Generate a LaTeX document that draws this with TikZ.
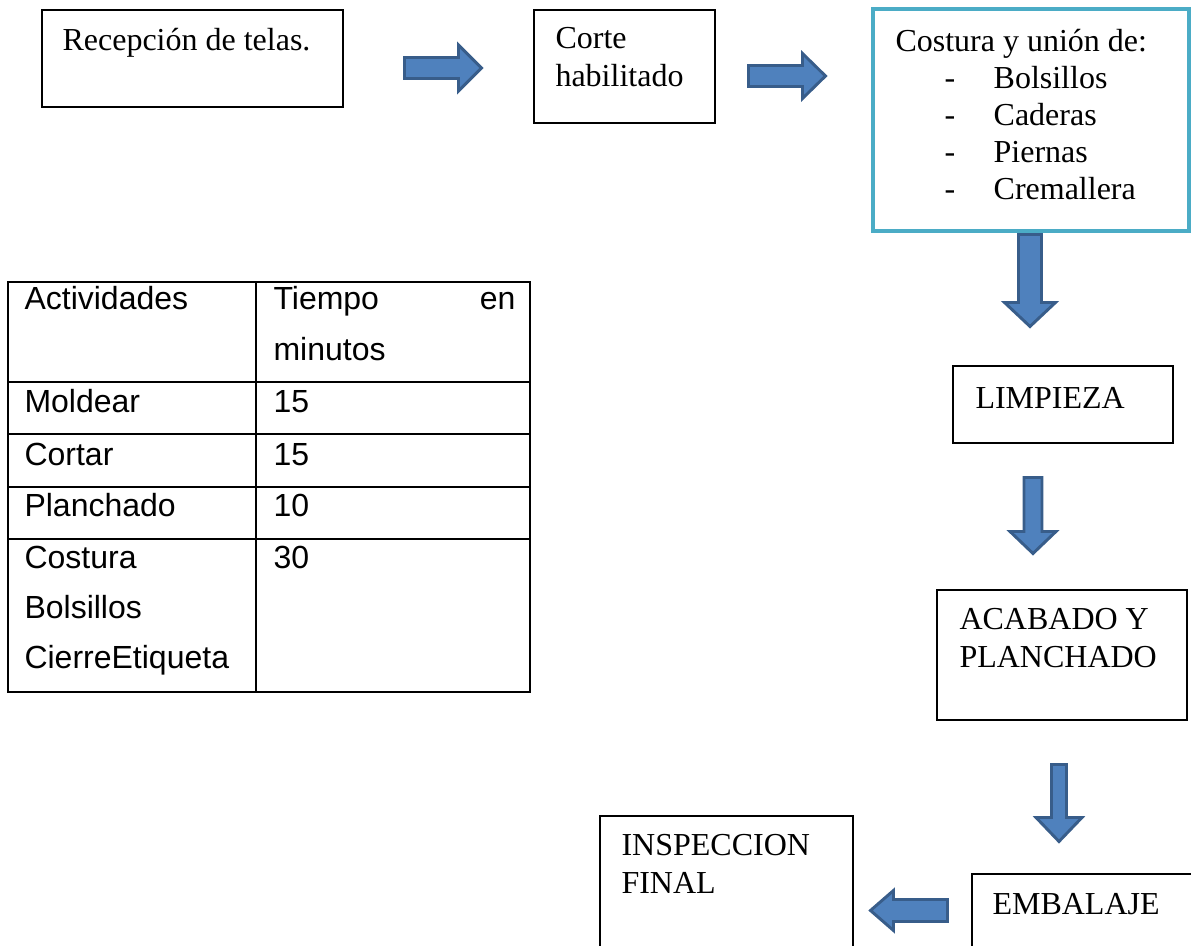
\documentclass[tikz,border=0pt]{standalone}
\usepackage{fontspec}
\setmainfont{Liberation Serif}
\setsansfont{Liberation Sans}
\usetikzlibrary{fit}
\definecolor{flecha}{HTML}{4F81BD}
\definecolor{bordeflecha}{HTML}{385D8A}
\definecolor{turquesa}{HTML}{4BACC6}
\newcommand{\guion}[1]{\hspace*{18.4pt}\makebox[18.4pt][l]{-}#1}
\newcommand{\lineas}[1]{\parbox[t]{150pt}{\raggedright #1}}
\tikzset{
  caja/.style={draw, line width=.5pt, inner sep=0pt},
  texto/.style={inner sep=0pt, anchor=base west, font=\fontsize{12}{14}\selectfont},
  celda/.style={inner sep=0pt, anchor=base west, font=\sffamily\fontsize{12}{14}\selectfont},
  pics/flechabloque/.style n args={4}{code={
    \draw[fill=flecha, draw=bordeflecha, line width=1.1pt]
      (0,-#2)--(#1-#4,-#2)--(#1-#4,-#3)--(#1,0)--(#1-#4,#3)--(#1-#4,#2)--(0,#2)--cycle;}}
}
\begin{document}
\begin{tikzpicture}[x=.375pt, y=-.375pt]
\useasboundingbox (0,0) rectangle (1191,946);
\clip (0,0) rectangle (1191,946);

% cajas del proceso
\node[caja, fit={(42,10)(343,107)}] (recep) {};
\node[caja, fit={(534,10)(715,123)}] (corte) {};
\node[caja, draw=turquesa, line width=1.5pt, fit={(873,9)(1189,231)}] (costura) {};
\node[caja, fit={(953,366)(1173,443)}] (limpieza) {};
\node[caja, fit={(937,590)(1187,720)}] (acabado) {};
\node[caja, fit={(600,816)(853,970)}] (inspeccion) {};
\node[caja, fit={(972,874)(1210,970)}] (embalaje) {};

\node[texto] (trecep) at (62,51) {Recepción de telas.};
\node[texto] (tcorte) at (555,49) {\lineas{Corte\\habilitado}};
\node[texto, font=\fontsize{12}{13.8}\selectfont] (tcostura) at (895,52)
  {\lineas{Costura y unión de:\\\guion{Bolsillos}\\\guion{Caderas}\\\guion{Piernas}\\\guion{Cremallera}}};
\node[texto] (tlimpieza) at (975,409) {LIMPIEZA};
\node[texto] (tacabado) at (959,630) {\lineas{ACABADO Y\\PLANCHADO}};
\node[texto] (tinspeccion) at (621,856) {\lineas{INSPECCION\\FINAL}};
\node[texto] (tembalaje) at (992,915) {EMBALAJE};

% flechas de bloque
\pic at (404.5,68) {flechabloque={77}{10.5}{23}{23}};
\pic at (748.5,76) {flechabloque={77}{10.5}{22.5}{23}};
\pic[rotate=-90] at (1030,234.5) {flechabloque={92}{11.5}{25.5}{24}};
\pic[rotate=-90] at (1033,477.5) {flechabloque={76}{9}{23}{22}};
\pic[rotate=-90] at (1059,764.5) {flechabloque={77}{7.5}{23}{24}};
\pic[rotate=180] at (947.5,910.5) {flechabloque={77}{11}{20}{23}};

% tabla de tiempos
\draw[line width=.9pt] (8,282) rectangle (530,692);
\draw[line width=.9pt] (256,282)--(256,692);
\draw[line width=.9pt] (8,382)--(530,382) (8,434)--(530,434) (8,487)--(530,487) (8,539)--(530,539);

\node[celda] (act) at (24,310) {Actividades};
\node[celda] (tiempo) at (273,310) {Tiempo};
\node[celda, anchor=base east] (en) at (516,310) {en};
\node[celda] (minutos) at (273,361) {minutos};
\node[celda] (moldear) at (24,413) {Moldear};
\node[celda] (tmoldear) at (273,413) {15};
\node[celda] (cortar) at (24,466) {Cortar};
\node[celda] (tcortar) at (273,466) {15};
\node[celda] (planchado) at (24,517) {Planchado};
\node[celda] (tplanchado) at (273,517) {10};
\node[celda] (cost) at (24,569) {Costura};
\node[celda] (tcost) at (273,569) {30};
\node[celda] (bolsillos) at (24,619) {Bolsillos};
\node[celda] (cierre) at (24,669) {CierreEtiqueta};
\end{tikzpicture}
\end{document}
